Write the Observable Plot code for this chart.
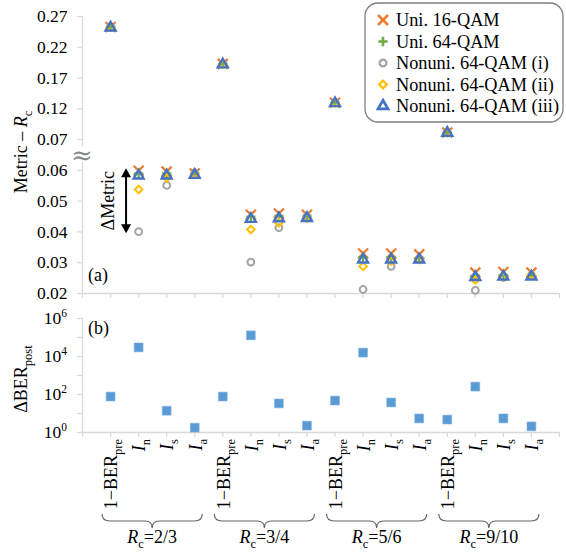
<!DOCTYPE html>
<html><head><meta charset="utf-8">
<script src="https://cdn.jsdelivr.net/npm/d3@7"></script>
<script src="https://cdn.jsdelivr.net/npm/@observablehq/plot@0.6"></script>
<style>
body{margin:0;background:#fff;}
#wrap{position:relative;width:566px;height:552px;}
#top,#bot{position:absolute;left:0;}
#top{top:0;} #bot{top:300px;}
</style></head><body><div id="wrap"><div id="top"></div><div id="bot"></div></div>
<script>
// ---------- data ----------
const groups = ["2/3", "3/4", "5/6", "9/10"];
const metricMain = ["1−BER", "I", "I", "I"];
const metricSub = ["pre", "n", "s", "a"];
const seriesNames = ["Uni. 16-QAM", "Uni. 64-QAM", "Nonuni. 64-QAM (i)", "Nonuni. 64-QAM (ii)", "Nonuni. 64-QAM (iii)"];
const seriesColors = ["#ED7D31", "#70AD47", "#A5A5A5", "#FFC000", "#4472C4"];
const seriesSymbols = ["times", "plus", "circle", "diamond2", "triangle"];
// Metric − Rc for each of the 16 categories (4 metrics × 4 code rates)
const uni16  = [0.253, 0.0599, 0.0596, 0.0590, 0.193, 0.0456, 0.0460, 0.0456, 0.130, 0.0330, 0.0330, 0.0327, 0.0815, 0.0268, 0.0270, 0.0268];
const uni64  = [0.253, 0.0590, 0.0590, 0.0590, 0.193, 0.0450, 0.0452, 0.0452, 0.130, 0.0318, 0.0318, 0.0316, 0.0815, 0.0258, 0.0260, 0.0260];
const nonI   = [0.253, 0.0401, 0.0551, 0.0592, 0.193, 0.0302, 0.0414, 0.0450, 0.130, 0.0213, 0.0288, 0.0312, 0.0815, 0.0210, 0.0252, 0.0260];
const nonII  = [0.253, 0.0538, 0.0575, 0.0588, 0.193, 0.0408, 0.0430, 0.0445, 0.130, 0.0288, 0.0305, 0.0310, 0.0815, 0.0244, 0.0255, 0.0260];
const nonIII = [0.252, 0.0583, 0.0583, 0.0585, 0.192, 0.0442, 0.0444, 0.0445, 0.129, 0.0310, 0.0310, 0.0310, 0.0810, 0.0253, 0.0255, 0.0255];
const seriesValues = [uni16, uni64, nonI, nonII, nonIII];
// ΔBER_post
const dBER = [78, 30000, 14, 1.8, 78, 130000, 34, 2.3, 48, 16000, 38, 5.5, 4.8, 260, 5.5, 2.1];
const yTicksTop = [0.02, 0.03, 0.04, 0.05, 0.06, 0.07, 0.12, 0.17, 0.22, 0.27];
const yTicksBot = [1, 10, 100, 1e3, 1e4, 1e5, 1e6];
const yLabelsBot = [0, 2, 4, 6];

// broken axis mapping: 0.01 per step below 0.07, 0.05 per step above
const f = v => v <= 0.07 ? (v - 0.02) / 0.01 : 5 + (v - 0.07) / 0.05;
const finv = t => t <= 5 ? 0.02 + t * 0.01 : 0.07 + (t - 5) * 0.05;

const FONT = "'Liberation Serif','Times New Roman',serif";
const AX = "#d9d9d9";
const symR = {times: 4.6, plus: 3.1, circle: 3.4, diamond2: 3.4, triangle: 3.7};
const symW = {times: 2.3, plus: 2.3, circle: 2, diamond2: 2, triangle: 2.4};
const d3sym = {times: d3.symbolTimes, plus: d3.symbolPlus, circle: d3.symbolCircle, diamond2: d3.symbolDiamond2, triangle: d3.symbolTriangle};

const cats = d3.range(16).map(i => ({x: i + 1, g: Math.floor(i / 4), m: i % 4}));
const xTicks = d3.range(0, 18);

// ---------- top panel ----------
const topRows = seriesValues.map(vals => vals.map((v, i) => ({x: i + 1, y: f(v)})));
const topPlot = Plot.plot({
  width: 566, height: 300,
  marginLeft: 82, marginRight: 7, marginTop: 16, marginBottom: 7,
  style: {fontFamily: FONT, fontSize: "17px", background: "white", overflow: "visible", color: "#000"},
  x: {domain: [0, 17], axis: null},
  y: {domain: [0, 9], axis: null},
  marks: [
    Plot.ruleX([0], {stroke: AX, strokeWidth: 1.3}),
    Plot.ruleY([0], {stroke: AX, strokeWidth: 1.3}),
    Plot.axisX(xTicks, {anchor: "bottom", label: null, tickSize: 5, tickFormat: () => "", stroke: AX, strokeWidth: 1.2}),
    Plot.axisY(yTicksTop.map(f), {anchor: "left", label: null, tickSize: 5, tickFormat: () => "", stroke: AX, strokeWidth: 1.2}),
    Plot.axisY(yTicksTop.map(f), {anchor: "left", label: null, tickSize: 0, tickPadding: 15, fontSize: 17.5, fill: "#000", tickFormat: d => d3.format(".2f")(finv(d))}),
    ...topRows.map((rows, s) => Plot.dot(rows, {
      x: "x", y: "y", symbol: seriesSymbols[s], r: symR[seriesSymbols[s]],
      stroke: seriesColors[s], strokeWidth: symW[seriesSymbols[s]], fill: "none"
    }))
  ]
});
document.getElementById("top").append(topPlot);

// ---------- bottom panel ----------
const botRows = dBER.map((v, i) => ({x: i + 1, y: v}));
const botPlot = Plot.plot({
  width: 566, height: 252,
  marginLeft: 82, marginRight: 7, marginTop: 18, marginBottom: 120,
  style: {fontFamily: FONT, fontSize: "17px", background: "white", overflow: "visible", color: "#000"},
  x: {domain: [0, 17], axis: null},
  y: {type: "log", domain: [1, 1e6], axis: null},
  marks: [
    Plot.ruleX([0], {stroke: AX, strokeWidth: 1.3}),
    Plot.ruleY([1], {stroke: AX, strokeWidth: 1.3}),
    Plot.axisX(xTicks, {anchor: "bottom", label: null, tickSize: 5, tickFormat: () => "", stroke: AX, strokeWidth: 1.2}),
    Plot.axisY(yTicksBot, {anchor: "left", label: null, tickSize: 5, tickFormat: () => "", stroke: AX, strokeWidth: 1.2}),
    Plot.dot(botRows, {x: "x", y: "y", symbol: "square", r: 5, fill: "#5B9BD5", stroke: "#7fb2e0", strokeWidth: 0.6})
  ]
});
document.getElementById("bot").append(botPlot);

// ---------- annotations & rich text ----------
const sx = topPlot.scale("x").apply, syT = topPlot.scale("y").apply;
const syB = botPlot.scale("y").apply;
const T = d3.select(topPlot), B = d3.select(botPlot);

// y-axis title (top)
{
  const t = T.append("text").attr("transform", `translate(21,152) rotate(-90)`)
    .attr("text-anchor", "middle").attr("dy", "0.35em").attr("font-size", 18).attr("fill", "#000");
  t.append("tspan").text("Metric – ");
  t.append("tspan").text("R").attr("font-style", "italic");
  t.append("tspan").text("c").attr("font-size", 12.5).attr("dy", 5);
}
// axis break symbol
{
  const yb = (syT(4) + syT(5)) / 2;
  T.append("rect").attr("x", sx(0) - 8).attr("y", yb - 8).attr("width", 16).attr("height", 16).attr("fill", "white");
  T.append("text").attr("x", sx(0)).attr("y", yb).attr("dy", "0.35em").attr("text-anchor", "middle")
    .attr("font-size", 26).attr("fill", "#888").attr("font-family", "'DejaVu Serif',serif").text("≈");
}
// (a)
T.append("text").attr("x", 88).attr("y", 281).attr("text-anchor", "start").attr("font-size", 18).attr("fill", "#000").text("(a)");
// ΔMetric arrow
{
  const ax = sx(1.57);
  const y1 = syT(f(uni16[1])) - 2, y2 = syT(f(nonI[1])) + 2;
  const h = 9, w = 5;
  T.append("line").attr("x1", ax).attr("x2", ax).attr("y1", y1 + h - 1).attr("y2", y2 - h + 1).attr("stroke", "#000").attr("stroke-width", 2);
  T.append("path").attr("d", `M${ax},${y1}L${ax - w},${y1 + h}L${ax + w},${y1 + h}Z`).attr("fill", "#000");
  T.append("path").attr("d", `M${ax},${y2}L${ax - w},${y2 - h}L${ax + w},${y2 - h}Z`).attr("fill", "#000");
  T.append("text").attr("transform", `translate(${ax - 18},${(y1 + y2) / 2}) rotate(-90)`)
    .attr("text-anchor", "middle").attr("dy", "0.35em").attr("font-size", 18).attr("fill", "#000")
    .text("ΔMetric");
}
// legend
{
  const lg = T.append("g");
  lg.append("rect").attr("x", 365).attr("y", 3).attr("width", 198).attr("height", 119).attr("rx", 13)
    .attr("fill", "white").attr("stroke", "#7f7f7f").attr("stroke-width", 1.3);
  seriesNames.forEach((name, s) => {
    const yy = 20 + s * 21.5;
    const sym = seriesSymbols[s], r = symR[sym];
    lg.append("path").attr("transform", `translate(383,${yy})`)
      .attr("d", d3.symbol(d3sym[sym], Math.PI * r * r)())
      .attr("fill", "none").attr("stroke", seriesColors[s]).attr("stroke-width", symW[sym] + 0.3);
    lg.append("text").attr("x", 396).attr("y", yy).attr("dy", "0.35em").attr("text-anchor", "start")
      .attr("font-size", 18.3).attr("fill", "#000").text(name);
  });
}

// bottom y-axis title
{
  const t = B.append("text").attr("transform", `translate(21,79) rotate(-90)`)
    .attr("text-anchor", "middle").attr("dy", "0.35em").attr("font-size", 18).attr("fill", "#000");
  t.append("tspan").text("ΔBER");
  t.append("tspan").text("post").attr("font-size", 12.5).attr("dy", 5);
}
// bottom y tick labels 10^k
yLabelsBot.forEach(k => {
  const t = B.append("text").attr("x", sx(0) - 15).attr("y", syB(Math.pow(10, k))).attr("dy", "0.35em")
    .attr("text-anchor", "end").attr("font-size", 17.5).attr("fill", "#000");
  t.append("tspan").text("10");
  t.append("tspan").text(String(k)).attr("font-size", 11.5).attr("dy", -7);
});
// (b)
B.append("text").attr("x", 88).attr("y", 34).attr("text-anchor", "start").attr("font-size", 18).attr("fill", "#000").text("(b)");

// category labels (rotated)
const yAxisB = syB(1);
cats.forEach(c => {
  const t = B.append("text").attr("transform", `translate(${sx(c.x) + 1},${yAxisB + 7}) rotate(-90)`)
    .attr("text-anchor", "end").attr("dy", "0.35em").attr("font-size", 18).attr("fill", "#000");
  const t1 = t.append("tspan").text(metricMain[c.m]);
  if (c.m > 0) t1.attr("font-style", "italic");
  t.append("tspan").text(metricSub[c.m]).attr("font-size", 12.5).attr("dy", 5);
});
// braces + group labels
groups.forEach((g, gi) => {
  const a = sx(gi * 4 + 1) - 8, b = sx(gi * 4 + 4) + 8, m = (a + b) / 2;
  const y0 = yAxisB + 82, ym = y0 + 7, yt = y0 + 14;
  B.append("path").attr("d",
    `M${a},${y0} Q${a},${ym} ${a + 8},${ym} L${m - 7},${ym} Q${m},${ym} ${m},${yt} Q${m},${ym} ${m + 7},${ym} L${b - 8},${ym} Q${b},${ym} ${b},${y0}`)
    .attr("fill", "none").attr("stroke", "#666").attr("stroke-width", 1.2);
  const t = B.append("text").attr("x", m).attr("y", yAxisB + 111).attr("text-anchor", "middle").attr("font-size", 18).attr("fill", "#000");
  t.append("tspan").text("R").attr("font-style", "italic");
  t.append("tspan").text("c").attr("font-size", 12.5).attr("dy", 5);
  t.append("tspan").text("=" + g).attr("dy", -5);
});
</script></body></html>
